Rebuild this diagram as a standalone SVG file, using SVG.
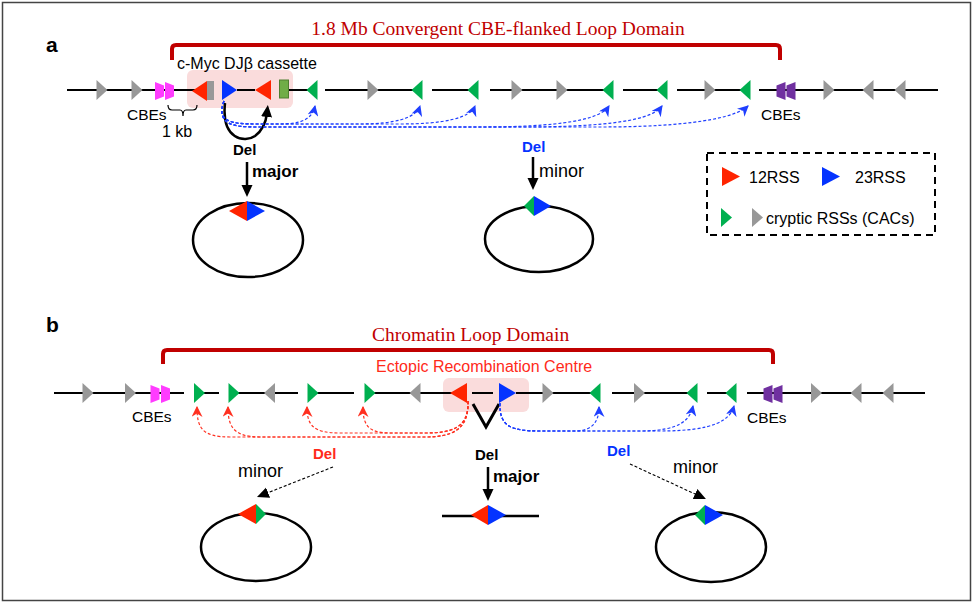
<svg xmlns="http://www.w3.org/2000/svg" width="974" height="604" viewBox="0 0 974 604">
<style>
.ln{stroke:#000;stroke-width:2;fill:none}
.gr{fill:#989898}.gn{fill:#00B050}.rd{fill:#FF2400}.bl{fill:#0433FF}.mg{fill:#FF3CFF}.pp{fill:#7030A0}
.brk{fill:none;stroke:#C00000;stroke-width:4}
.ttl{font-family:"Liberation Serif","Times New Roman",serif;font-size:19.5px;fill:#C00000}
.t{font-family:"Liberation Sans",Arial,sans-serif;fill:#000}
.b{font-weight:bold}
.dbl{fill:none;stroke:#1F3FFF;stroke-width:1.2;stroke-dasharray:3 2}
.drd{fill:none;stroke:#FF3020;stroke-width:1.2;stroke-dasharray:3 2}
.dk{fill:none;stroke:#000;stroke-width:1.1;stroke-dasharray:3 2}
.arr{fill:none;stroke:#000;stroke-width:2.5}
.ell{fill:none;stroke:#000;stroke-width:2.5}
.pink{fill:#FADCDC}
</style>
<defs>
<path id="tR" d="M-5.5,-10 L5.5,0 L-5.5,10 Z"/>
<path id="tL" d="M5.5,-10 L-5.5,0 L5.5,10 Z"/>
<path id="cR" d="M-4.5,-9 L4.5,-5.5 L4.5,5.5 L-4.5,9 Z"/>
<path id="cL" d="M4.5,-9 L-4.5,-5.5 L-4.5,5.5 L4.5,9 Z"/>
<marker id="mk" viewBox="0 0 12 12" markerWidth="12" markerHeight="12" refX="4" refY="6" orient="auto" markerUnits="userSpaceOnUse"><path d="M0,0.5 L12,6 L0,11.5 Z" fill="#000"/></marker>
<marker id="mb" viewBox="0 0 10 10" markerWidth="11" markerHeight="11" refX="9" refY="5" orient="auto" markerUnits="userSpaceOnUse"><path d="M0,0 L10,5 L0,10 L3,5 Z" fill="#1F3FFF"/></marker>
<marker id="mr" viewBox="0 0 10 10" markerWidth="11" markerHeight="11" refX="9" refY="5" orient="auto" markerUnits="userSpaceOnUse"><path d="M0,0 L10,5 L0,10 L3,5 Z" fill="#FF3020"/></marker>
</defs>
<rect x="2.5" y="2.5" width="968" height="598" fill="#fff" stroke="#444" stroke-width="1.5"/>

<!-- Panel a -->
<g id="a-label"><text class="t b" x="46" y="52" font-size="21">a</text></g>
<g id="a-domain">
<path class="brk" d="M172,60 L172,49 Q172,45 176,45 L776,45 Q780,45 780,49 L780,60"/>
<text class="ttl" x="498" y="35" text-anchor="middle">1.8 Mb Convergent CBE-flanked Loop Domain</text>
</g>
<g id="a-cassette">
<rect class="pink" x="187" y="70" width="106" height="38" rx="6"/>
<text class="t" x="177" y="69" font-size="16">c-Myc DJβ cassette</text>
</g>
<g id="a-chromosome">
<path class="ln" d="M67,90H207M237,90H255M289,90H317M325,90H422M432,90H478M490,90H613M623,90H667M677,90H750M759,90H938"/>
<use href="#tR" class="gr" x="102" y="90"/><use href="#tR" class="gr" x="137" y="90"/>
<use href="#cR" class="mg" x="159.5" y="91"/><use href="#cR" class="mg" x="169.5" y="91"/>
<polygon class="rd" points="192,91 207,81 207,101"/>
<rect x="207" y="81" width="7" height="19" fill="#989898"/>
<polygon class="bl" points="222,80 237,90 222,100"/>
<polygon class="rd" points="255,90 271,80 271,100"/>
<rect x="279.5" y="80" width="9" height="18" fill="#70AD47" stroke="#4E7F30" stroke-width="1"/>
<use href="#tL" class="gn" x="312" y="90"/>
<use href="#tR" class="gr" x="373" y="90"/>
<use href="#tL" class="gn" x="417" y="90"/>
<use href="#tL" class="gn" x="473" y="90"/>
<use href="#tR" class="gr" x="517" y="90"/><use href="#tR" class="gr" x="562" y="90"/>
<use href="#tL" class="gn" x="608" y="90"/>
<use href="#tL" class="gn" x="662" y="90"/>
<use href="#tR" class="gr" x="710" y="90"/>
<use href="#tL" class="gn" x="745" y="90"/>
<use href="#cL" class="pp" x="781" y="91"/><use href="#cL" class="pp" x="791" y="91"/>
<use href="#tR" class="gr" x="829" y="90"/>
<use href="#tL" class="gr" x="868" y="90"/><use href="#tL" class="gr" x="900" y="90"/>
<text class="t" x="127" y="120" font-size="15.5">CBEs</text>
<text class="t" x="761" y="120" font-size="15.5">CBEs</text>
<path d="M168,105 Q168,110 172,110 L180,110 Q183,110 183,116 Q183,110 186,110 L193,110 Q197,110 197,105" fill="none" stroke="#000" stroke-width="1.2"/>
<text class="t" x="162" y="137" font-size="16">1 kb</text>
</g>
<g id="a-major-product">
<text class="t b" x="233" y="155" font-size="15">Del</text>
<text class="t b" x="252" y="177" font-size="17">major</text>
<ellipse class="ell" cx="248" cy="240" rx="55" ry="37"/>
<polygon class="rd" points="229,211 247,201 247,221"/>
<polygon class="bl" points="247,201 265,211 247,221"/>
</g>
<g id="a-minor-product">
<text class="t b" x="522" y="152" font-size="15" style="fill:#0433FF">Del</text>
<text class="t" x="539" y="177" font-size="18">minor</text>
<ellipse class="ell" cx="539" cy="239" rx="54" ry="33"/>
<polygon class="gn" points="524,206 534,196 534,216"/>
<polygon class="bl" points="534,196 551,206 534,216"/>
</g>
<g id="a-legend">
<rect x="707" y="153" width="228" height="82" fill="none" stroke="#000" stroke-width="2" stroke-dasharray="7 5"/>
<polygon class="rd" points="722,167 740,176.5 722,186"/>
<text class="t" x="749" y="183" font-size="16">12RSS</text>
<polygon class="bl" points="822,167 840,176.5 822,186"/>
<text class="t" x="855" y="183" font-size="16">23RSS</text>
<polygon class="gn" points="721,208 732,217.5 721,227"/>
<polygon class="gr" points="752,208 763,217.5 752,227"/>
<text class="t" x="766" y="224" font-size="16">cryptic RSSs (CACs)</text>
</g>

<!-- Panel b -->
<g id="b-label"><text class="t b" x="46" y="332" font-size="21">b</text></g>
<g id="b-domain">
<path class="brk" d="M163,364 L163,354 Q163,350 167,350 L769,350 Q773,350 773,354 L773,364"/>
<text class="ttl" x="372" y="341">Chromatin Loop Domain</text>
</g>
<g id="b-erc">
<rect class="pink" x="443" y="378" width="86" height="34" rx="6"/>
<text class="t" x="376" y="372" font-size="16" style="fill:#FF2A1A">Ectopic Recombination Centre</text>
</g>
<g id="b-chromosome">
<path class="ln" d="M54,393H184M194,393H219M229,393H298M308,393H354M365,393H467M472,393H493M516,393H600M612,393H697M707,393H736M747,393H925"/>
<use href="#tR" class="gr" x="88" y="393"/><use href="#tR" class="gr" x="130.5" y="393"/>
<use href="#cR" class="mg" x="155" y="394"/><use href="#cR" class="mg" x="165.5" y="394"/>
<use href="#tR" class="gn" x="199.5" y="393"/>
<use href="#tR" class="gn" x="234" y="393"/>
<use href="#tL" class="gr" x="269.5" y="393"/>
<use href="#tR" class="gn" x="313" y="393"/>
<use href="#tR" class="gn" x="370" y="393"/>
<use href="#tL" class="gr" x="415" y="393"/>
<polygon class="rd" points="450,393 467,383 467,403"/>
<polygon class="bl" points="499,383 516,393 499,403"/>
<use href="#tR" class="gr" x="548" y="393"/>
<use href="#tL" class="gn" x="595" y="393"/>
<use href="#tR" class="gr" x="639.5" y="393"/>
<use href="#tL" class="gn" x="692" y="393"/>
<use href="#tL" class="gn" x="731" y="393"/>
<use href="#cL" class="pp" x="768" y="394"/><use href="#cL" class="pp" x="778" y="394"/>
<use href="#tR" class="gr" x="816.5" y="393"/>
<use href="#tL" class="gr" x="856" y="393"/><use href="#tL" class="gr" x="888" y="393"/>
<polyline points="473,404 486,427 499,404" fill="none" stroke="#000" stroke-width="3"/>
<text class="t" x="132" y="422" font-size="15.5">CBEs</text>
<text class="t" x="747" y="423" font-size="15.5">CBEs</text>
</g>
<g id="b-left-product">
<text class="t b" x="313" y="459" font-size="15" style="fill:#FF2A1A">Del</text>
<text class="t" x="238" y="477" font-size="18">minor</text>
<ellipse class="ell" cx="256" cy="547" rx="55" ry="34"/>
<polygon class="rd" points="238,514 256,504 256,524"/>
<polygon class="gn" points="256,504 266,514 256,524"/>
</g>
<g id="b-center-product">
<text class="t b" x="475" y="460" font-size="15">Del</text>
<text class="t b" x="493" y="482" font-size="17">major</text>
<line x1="442" y1="516" x2="539" y2="516" stroke="#000" stroke-width="2.5"/>
<polygon class="rd" points="471,515 488,505 488,525"/>
<polygon class="bl" points="488,505 506,515 488,525"/>
</g>
<g id="b-right-product">
<text class="t b" x="607" y="456" font-size="15" style="fill:#0433FF">Del</text>
<text class="t" x="673" y="473" font-size="18">minor</text>
<ellipse class="ell" cx="711" cy="547" rx="55" ry="35"/>
<polygon class="gn" points="695,515 705,505 705,525"/>
<polygon class="bl" points="705,505 723,515 705,525"/>
</g>

<g id="connectors">
<!-- panel a -->
<path class="arr" marker-end="url(#mk)" d="M225,103 C221,140 245,143 255,136 C263,130 266,122 267,113"/>
<path class="arr" marker-end="url(#mk)" d="M247,162 L247,189"/>
<path class="arr" marker-end="url(#mk)" d="M533,157 L533,182"/>
<path class="dbl" marker-end="url(#mb)" d="M224,101 C216,122 232,124 256,124 L280,124 C300,124 312,120 315,106"/>
<path class="dbl" marker-end="url(#mb)" d="M224,101 C216,122 232,124 256,124 L360,124 C395,124 416,118 420,106"/>
<path class="dbl" marker-end="url(#mb)" d="M224,101 C216,122 232,124 256,124 L400,124 C445,124 470,118 475,106"/>
<path class="dbl" marker-end="url(#mb)" d="M224,101 C216,124 232,127 256,127 L480,127 C560,127 600,120 609,106"/>
<path class="dbl" marker-end="url(#mb)" d="M224,101 C216,124 232,127 256,127 L520,127 C610,127 652,120 662,106"/>
<path class="dbl" marker-end="url(#mb)" d="M224,101 C216,124 232,127 256,127 L600,127 C690,127 735,118 748,106"/>
<!-- panel b -->
<path class="drd" marker-end="url(#mr)" d="M468,401 C469,428 452,433 425,433 L390,433 C368,433 363,425 363,407"/>
<path class="drd" marker-end="url(#mr)" d="M468,401 C469,428 452,433 425,433 L340,433 C314,433 307,426 307,407"/>
<path class="drd" marker-end="url(#mr)" d="M468,401 C469,430 452,437 425,437 L260,437 C233,437 228,426 228,407"/>
<path class="drd" marker-end="url(#mr)" d="M468,401 C469,430 452,437 425,437 L230,437 C202,437 197,428 197,407"/>
<path class="dbl" marker-end="url(#mb)" d="M500,403 C499,427 512,431 540,431 L575,431 C592,431 599,422 599,407"/>
<path class="dbl" marker-end="url(#mb)" d="M500,403 C499,427 512,431 540,431 L640,431 C680,431 690,420 693,406"/>
<path class="dbl" marker-end="url(#mb)" d="M500,403 C499,427 512,431 540,431 L660,431 C715,431 730,420 734,406"/>
<path class="dk" marker-end="url(#mk)" d="M333,467 L264.4,494.1"/>
<path class="arr" marker-end="url(#mk)" d="M488,467 L488,493"/>
<path class="dk" marker-end="url(#mk)" d="M630,464 L698.7,495.7"/>
</g>
</svg>
